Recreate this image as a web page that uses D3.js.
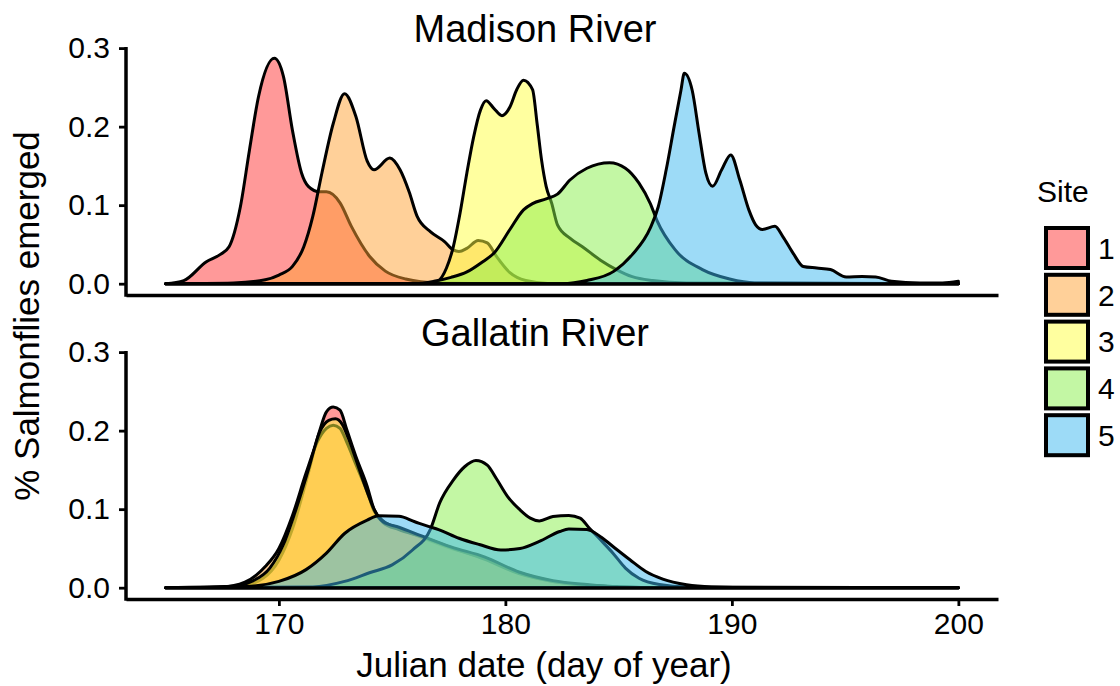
<!DOCTYPE html>
<html>
<head>
<meta charset="utf-8">
<script src="https://cdn.jsdelivr.net/npm/d3@7/dist/d3.min.js"></script>
<style>
    body { margin: 0; background: #fff; }
    svg text { font-family: "Liberation Sans", Arial, sans-serif; fill: #000; }
</style>
</head>
<body>
<div id="chart"></div>
<script>
// ---- data: [julian day, density] ----
const rivers = ["Madison River", "Gallatin River"];
const sites = ["1", "2", "3", "4", "5"];
const xTicks = [170, 180, 190, 200];
const yTicks = [0, 0.1, 0.2, 0.3];

const madisonSite1 = [[165,0],[165.8,0.004],[166.8,0.028],[167.4,0.037],[167.8,0.047],[168.3,0.098],[168.7,0.170],[169.1,0.238],[169.8,0.287],[170.2,0.264],[170.6,0.195],[171.0,0.141],[171.3,0.124],[171.8,0.117],[172.1,0.117],[172.7,0.103],[173.2,0.073],[174.0,0.035],[174.7,0.016],[175.6,0.006],[177,0.001],[180,0],[200,0]];
const madisonSite2 = [[165,0],[168,0.001],[169.4,0.005],[170.0,0.011],[170.6,0.022],[171.1,0.047],[171.5,0.086],[171.9,0.141],[172.4,0.204],[172.9,0.242],[173.4,0.213],[173.9,0.156],[174.2,0.145],[174.9,0.160],[175.35,0.145],[175.75,0.117],[176.1,0.086],[176.7,0.066],[177.3,0.054],[177.7,0.043],[177.95,0.041],[178.3,0.045],[178.8,0.055],[179.2,0.052],[179.6,0.035],[180.2,0.014],[180.9,0.004],[182,0],[200,0]];
const madisonSite3 = [[165,0],[176.5,0],[177.0,0.003],[177.4,0.020],[177.7,0.047],[178.0,0.090],[178.3,0.141],[178.6,0.187],[178.9,0.221],[179.15,0.233],[179.5,0.223],[179.85,0.214],[180.2,0.225],[180.5,0.247],[180.8,0.259],[181.2,0.247],[181.4,0.204],[181.6,0.157],[181.8,0.124],[182.05,0.102],[182.3,0.075],[182.85,0.058],[183.4,0.047],[184.2,0.030],[184.9,0.018],[185.6,0.009],[186.5,0.004],[188,0.001],[200,0]];
const madisonSite4 = [[165,0],[176,0],[176.85,0.003],[177.6,0.008],[178.3,0.015],[179.0,0.028],[179.5,0.039],[180.2,0.069],[180.8,0.094],[181.2,0.102],[181.8,0.108],[182.3,0.114],[182.85,0.132],[183.6,0.147],[184.6,0.154],[185.3,0.147],[185.9,0.128],[186.4,0.102],[186.7,0.080],[187.5,0.043],[188.7,0.018],[189.9,0.006],[191,0.001],[200,0]];
const madisonSite5 = [[165,0],[182.5,0],[183.6,0.004],[184.8,0.016],[185.6,0.037],[186.4,0.071],[186.75,0.098],[187.1,0.145],[187.45,0.200],[187.75,0.246],[187.9,0.268],[188.25,0.246],[188.55,0.192],[188.85,0.141],[189.15,0.124],[189.55,0.145],[189.95,0.164],[190.35,0.132],[190.75,0.094],[191.05,0.075],[191.35,0.069],[191.9,0.073],[192.25,0.060],[192.7,0.039],[193.15,0.022],[193.75,0.020],[194.35,0.018],[195.05,0.0085],[195.75,0.009],[196.35,0.0085],[197.05,0.003],[198.3,0.001],[199.3,0.001],[200,0.003]];

const gallatinSite1 = [[165,0],[168.3,0.002],[169.3,0.012],[170.0,0.035],[170.6,0.075],[171.2,0.135],[171.8,0.200],[172.1,0.224],[172.4,0.230],[172.7,0.226],[173.0,0.201],[173.4,0.167],[173.9,0.129],[174.2,0.100],[174.6,0.085],[175.3,0.076],[176.3,0.064],[177.6,0.050],[179.1,0.037],[180.6,0.019],[182.1,0.008],[183.6,0.003],[185,0.001],[187,0],[200,0]];
const gallatinSite2 = [[165,0],[167.5,0.001],[168.5,0.007],[169.0,0.016],[169.4,0.027],[170.0,0.050],[170.6,0.092],[171.2,0.146],[171.7,0.186],[172.1,0.203],[172.4,0.207],[172.7,0.203],[173.0,0.185],[173.4,0.157],[173.9,0.122],[174.2,0.098],[174.6,0.083],[175.3,0.074],[176.3,0.065],[177.6,0.051],[179.1,0.036],[180.6,0.018],[182.1,0.008],[183.6,0.003],[185,0.001],[187,0],[200,0]];
const gallatinSite3 = [[165,0],[167.8,0.001],[168.8,0.008],[169.6,0.025],[170.2,0.055],[170.7,0.095],[171.3,0.150],[171.8,0.198],[172.2,0.213],[172.5,0.215],[172.8,0.208],[173.1,0.188],[173.5,0.155],[173.9,0.122],[174.25,0.097],[174.6,0.084],[175.3,0.077],[176.3,0.066],[177.6,0.052],[179.1,0.039],[180.6,0.020],[182.1,0.009],[183.6,0.004],[185,0.001],[187,0],[200,0]];
const gallatinSite4 = [[165,0],[171.5,0.001],[172.9,0.008],[174.0,0.019],[175.0,0.029],[175.9,0.048],[176.7,0.075],[177.1,0.108],[177.7,0.137],[178.2,0.154],[178.7,0.162],[179.2,0.156],[179.6,0.139],[180.1,0.116],[180.65,0.099],[181.1,0.0886],[181.5,0.085],[182.1,0.0906],[182.8,0.092],[183.3,0.0886],[183.7,0.076],[184.2,0.061],[184.75,0.044],[185.3,0.025],[185.9,0.012],[186.8,0.004],[188,0.001],[200,0]];
const gallatinSite5 = [[165,0],[168,0.001],[169.0,0.0025],[170.0,0.008],[171.2,0.023],[172.1,0.044],[172.9,0.069],[173.9,0.086],[174.4,0.0915],[175.3,0.091],[176.0,0.084],[176.6,0.078],[177.05,0.074],[177.95,0.063],[178.85,0.055],[179.8,0.048],[180.65,0.050],[181.5,0.059],[182.4,0.0716],[182.8,0.0746],[183.6,0.074],[184.2,0.065],[184.75,0.0525],[185.5,0.0356],[186.2,0.0207],[186.95,0.011],[188.0,0.0038],[189.1,0.001],[191,0],[200,0]];

// site fill colours (drawn at 50% alpha like the original)
const siteColors = ["#ff3333", "#ffa133", "#ffff40", "#88f04a", "#3bb7ef"];

class EmergenceVis {
    constructor(parentElement, panels) {
        this.parentElement = parentElement;
        this.panels = panels;

        this.width = 1120;
        this.height = 686;

        // panel geometry (two stacked facets sharing x and y scales)
        this.panelLeft = 126;
        this.panelRight = 998;
        this.panelTops = [47, 351];
        this.panelHeight = 248;

        this.initVis();
    }

    initVis() {
        let vis = this;

        vis.svg = d3.select(vis.parentElement)
            .append("svg")
            .attr("width", vis.width)
            .attr("height", vis.height);

        // ggplot style 5% expansion around 165..200 and 0..max
        vis.x = d3.scaleLinear()
            .domain([163.25, 201.75])
            .range([vis.panelLeft, vis.panelRight]);

        vis.panels.forEach((p, i) => vis.drawPanel(p, i));

        // shared axis titles
        vis.svg.append("text")
            .attr("x", 544)
            .attr("y", 677)
            .attr("text-anchor", "middle")
            .style("font-size", "35px")
            .text("Julian date (day of year)");

        vis.svg.append("text")
            .attr("transform", "translate(39,316) rotate(-90)")
            .attr("text-anchor", "middle")
            .style("font-size", "35px")
            .text("% Salmonflies emerged");

        vis.drawLegend();
    }

    drawPanel(panel, i) {
        let vis = this;
        let top = vis.panelTops[i];

        let y = d3.scaleLinear()
            .domain([-0.0144, 0.3014])
            .range([top + vis.panelHeight, top]);

        let g = vis.svg.append("g").attr("class", "panel");

        let area = d3.area()
            .x(d => vis.x(d[0]))
            .y0(y(0))
            .y1(d => y(d[1]))
            .curve(d3.curveMonotoneX);

        g.selectAll(".density")
            .data(panel.series)
            .enter()
            .append("path")
            .attr("class", "density")
            .attr("d", d => area(d))
            .attr("fill", (d, j) => siteColors[j])
            .attr("fill-opacity", 0.5)
            .attr("stroke", "#000")
            .attr("stroke-width", 3)
            .attr("stroke-linejoin", "round");

        // y axis
        let yAxis = d3.axisLeft(y)
            .tickValues(yTicks)
            .tickFormat(d3.format(".1f"))
            .tickSize(7)
            .tickSizeOuter(0)
            .tickPadding(9);

        let ya = g.append("g")
            .attr("transform", `translate(${vis.panelLeft},0)`)
            .call(yAxis);

        // x axis (ticks only on the bottom facet)
        let xAxis = d3.axisBottom(vis.x)
            .tickValues(i === vis.panels.length - 1 ? xTicks : [])
            .tickFormat(d3.format("d"))
            .tickSize(7)
            .tickSizeOuter(0)
            .tickPadding(7);

        let xa = g.append("g")
            .attr("transform", `translate(0,${top + vis.panelHeight})`)
            .call(xAxis);

        [ya, xa].forEach(a => {
            a.select(".domain").attr("stroke", "#000").attr("stroke-width", 3.5);
            a.selectAll(".tick line").attr("stroke", "#000").attr("stroke-width", 2.8);
            a.selectAll(".tick text")
                .style("font-size", "30px")
                .style("font-family", "'Liberation Sans', Arial, sans-serif")
                .attr("fill", "#000");
        });
        // square off the corner where the two axis lines meet
        ya.select(".domain").attr("d", `M0,${top}V${top + vis.panelHeight + 1.75}`);

        // facet title
        g.append("text")
            .attr("x", 535)
            .attr("y", top - 5)
            .attr("text-anchor", "middle")
            .style("font-size", "38px")
            .text(panel.name);
    }

    drawLegend() {
        let vis = this;

        let legend = vis.svg.append("g").attr("class", "legend");

        legend.append("text")
            .attr("x", 1037)
            .attr("y", 202)
            .style("font-size", "30px")
            .text("Site");

        let keys = legend.selectAll(".key")
            .data(sites)
            .enter()
            .append("g")
            .attr("class", "key")
            .attr("transform", (d, i) => `translate(1046,${228 + i * 46.8})`);

        keys.append("rect")
            .attr("width", 42)
            .attr("height", 40)
            .attr("fill", (d, i) => siteColors[i])
            .attr("fill-opacity", 0.5)
            .attr("stroke", "#000")
            .attr("stroke-width", 4);

        keys.append("text")
            .attr("x", 52)
            .attr("y", 20)
            .attr("dy", "0.36em")
            .style("font-size", "30px")
            .text(d => d);
    }
}

let emergenceVis = new EmergenceVis("#chart", [
    {name: rivers[0], series: [madisonSite1, madisonSite2, madisonSite3, madisonSite4, madisonSite5]},
    {name: rivers[1], series: [gallatinSite1, gallatinSite2, gallatinSite3, gallatinSite4, gallatinSite5]}
]);
</script>
</body>
</html>
